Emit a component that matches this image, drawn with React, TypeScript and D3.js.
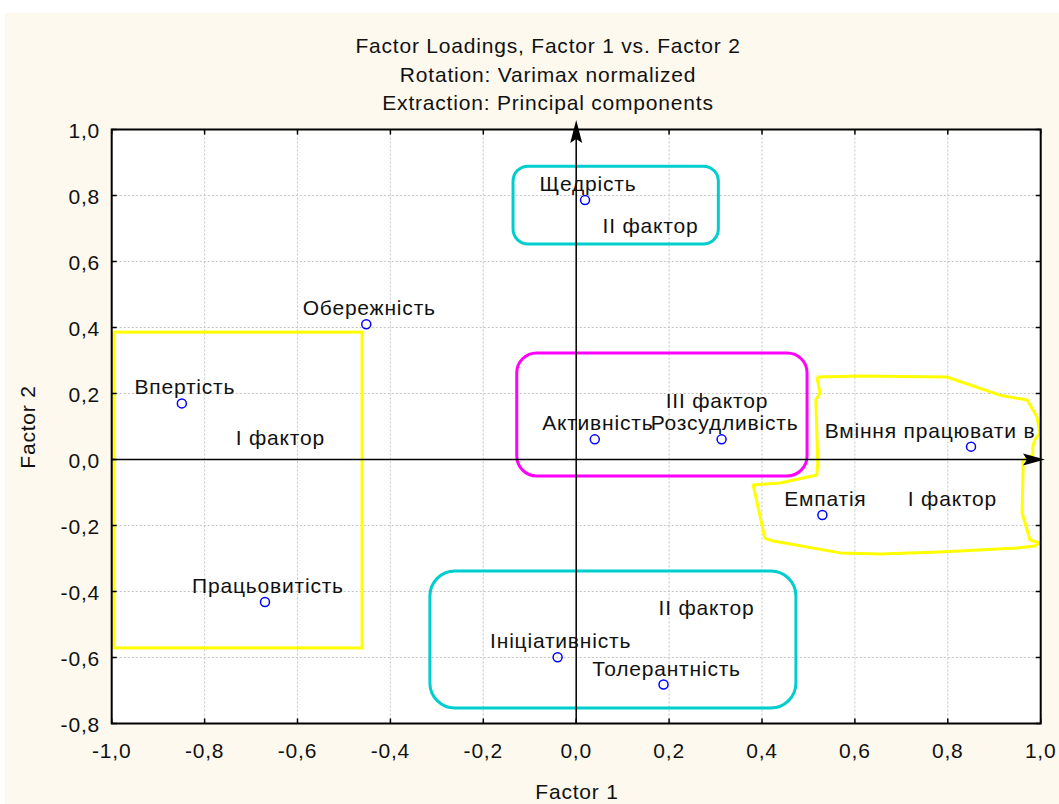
import React from "react";
import * as d3 from "d3";

const variableNames = [
  "Щедрість",
  "Обережність",
  "Впертість",
  "Працьовитість",
  "Активність",
  "Розсудливість",
  "Вміння працювати в команді",
  "Емпатія",
  "Ініціативність",
  "Толерантність",
];
const factor1 = [0.019, -0.452, -0.849, -0.67, 0.04, 0.313, 0.85, 0.53, -0.04, 0.188];
const factor2 = [0.786, 0.41, 0.17, -0.432, 0.061, 0.061, 0.039, -0.168, -0.599, -0.682];

const xTicks = [-1.0, -0.8, -0.6, -0.4, -0.2, 0.0, 0.2, 0.4, 0.6, 0.8, 1.0];
const yTicks = [-0.8, -0.6, -0.4, -0.2, 0.0, 0.2, 0.4, 0.6, 0.8, 1.0];

const titleLines = [
  "Factor Loadings, Factor 1 vs. Factor 2",
  "Rotation: Varimax normalized",
  "Extraction: Principal components",
];

// annotation boxes in data coordinates: [x0, y0(top), x1, y1(bottom)], colour, corner radius
const boxX0 = [-0.136, -0.995, -0.128, -0.315];
const boxY0 = [0.889, 0.386, 0.323, -0.338];
const boxX1 = [0.306, -0.461, 0.497, 0.473];
const boxY1 = [0.653, -0.571, -0.05, -0.753];
const boxColors = ["#00cdcd", "#ffff00", "#ff00ff", "#00cdcd"];
const boxRadius = [15, 0, 20, 25];

// freehand yellow outline (data coordinates)
const freeX = [0.518, 0.611, 0.798, 0.912, 0.971, 0.992, 0.998, 0.987, 0.983, 0.983, 0.962, 0.962, 0.96, 0.977, 0.998, 0.987, 0.949, 0.783, 0.654, 0.568, 0.424, 0.406, 0.381, 0.439, 0.518, 0.52, 0.516, 0.525, 0.518];
const freeY = [0.25, 0.253, 0.25, 0.195, 0.18, 0.129, 0.08, 0.059, 0.038, 0.014, -0.002, -0.032, -0.162, -0.244, -0.253, -0.262, -0.268, -0.28, -0.286, -0.283, -0.247, -0.238, -0.077, -0.071, -0.047, -0.011, 0.18, 0.202, 0.25];

const noteTexts = ["II фактор", "I фактор", "III фактор", "I фактор", "II фактор"];
const noteX = [0.16, -0.637, 0.303, 0.81, 0.2805];
const noteY = [0.686, 0.044, 0.156, -0.141, -0.471];

const W = 1059;
const H = 804;
const FONT = "'Liberation Sans', Arial, sans-serif";
const FS = 21;
const LS = 0.8;

export default function App() {
  const x = d3.scaleLinear().domain([-1, 1]).range([111.7, 1040.7]);
  const y = d3.scaleLinear().domain([-0.8, 1]).range([723.5, 129.5]);
  const [L, R] = x.range();
  const [B, T] = y.range();
  const fmt = (v: number) => d3.format(".1f")(v).replace(".", ",").replace("−", "-");

  const freeLine = d3
    .line<number>()
    .x((i) => x(freeX[i]))
    .y((i) => y(freeY[i]))
    .curve(d3.curveLinear);

  const x0 = x(0);
  const y0 = y(0);
  const topTip = 120;
  const rightTip = 1045;

  return (
    <svg
      width={W}
      height={H}
      style={{ position: "absolute", left: 0, top: 0, fontFamily: FONT }}
    >
      <rect x={0} y={0} width={W} height={H} fill="#ffffff" />
      <rect x={5} y={13} width={W - 5} height={H - 13} fill="#fdf9ee" />
      <defs>
        <clipPath id="plotClip">
          <rect x={L} y={T} width={R - L} height={B - T} />
        </clipPath>
      </defs>
      <rect x={L} y={T} width={R - L} height={B - T} fill="#ffffff" />

      {/* grid */}
      {xTicks.slice(1, -1).map((t) => (
        <line key={"gx" + t} x1={x(t)} x2={x(t)} y1={T} y2={B} stroke="#c4c4c4" strokeDasharray="2,2" />
      ))}
      {yTicks.slice(1, -1).map((t) => (
        <line key={"gy" + t} x1={L} x2={R} y1={y(t)} y2={y(t)} stroke="#c4c4c4" strokeDasharray="2,2" />
      ))}

      {/* title */}
      {titleLines.map((s, i) => (
        <text key={s} x={548} y={[53, 82, 110][i]} textAnchor="middle" fontSize={FS} letterSpacing={LS} fill="#111">
          {s}
        </text>
      ))}

      {/* tick labels */}
      {xTicks.map((t) => (
        <text key={"xl" + t} x={x(t)} y={758} textAnchor="middle" fontSize={FS} letterSpacing={LS} fill="#111">
          {fmt(t)}
        </text>
      ))}
      {yTicks.map((t) => (
        <text key={"yl" + t} x={100} y={y(t) + 8} textAnchor="end" fontSize={FS} letterSpacing={LS} fill="#111">
          {fmt(t)}
        </text>
      ))}

      <text x={577} y={799} textAnchor="middle" fontSize={FS} letterSpacing={LS} fill="#111">
        Factor 1
      </text>
      <text
        transform={`translate(35,${427}) rotate(-90)`}
        textAnchor="middle"
        fontSize={FS}
        letterSpacing={LS}
        fill="#111"
      >
        Factor 2
      </text>

      {/* annotation boxes */}
      {boxX0.map((bx, i) => (
        <rect
          key={"box" + i}
          x={x(bx)}
          y={y(boxY0[i])}
          width={x(boxX1[i]) - x(bx)}
          height={y(boxY1[i]) - y(boxY0[i])}
          rx={boxRadius[i]}
          ry={boxRadius[i]}
          fill="none"
          stroke={boxColors[i]}
          strokeWidth={3}
        />
      ))}
      <path
        d={freeLine(d3.range(freeX.length)) || ""}
        fill="none"
        stroke="#ffff00"
        strokeWidth={3}
        strokeLinejoin="round"
      />

      {/* frame and ticks */}
      <rect x={L} y={T} width={R - L} height={B - T} fill="none" stroke="#000" strokeWidth={2} />
      {xTicks.map((t) => (
        <g key={"xt" + t}>
          <line x1={x(t)} x2={x(t)} y1={B} y2={B - 5} stroke="#000" strokeWidth={1.5} />
          <line x1={x(t)} x2={x(t)} y1={T} y2={T + 5} stroke="#000" strokeWidth={1.5} />
        </g>
      ))}
      {yTicks.map((t) => (
        <g key={"yt" + t}>
          <line x1={L} x2={L + 5} y1={y(t)} y2={y(t)} stroke="#000" strokeWidth={1.5} />
          <line x1={R} x2={R - 5} y1={y(t)} y2={y(t)} stroke="#000" strokeWidth={1.5} />
        </g>
      ))}

      {/* axes through origin with arrows */}
      <line x1={x0} x2={x0} y1={B} y2={topTip + 6} stroke="#000" strokeWidth={1.5} />
      <path
        d={`M${x0},${topTip} L${x0 - 6},${topTip + 23} L${x0},${topTip + 19} L${x0 + 6},${topTip + 23} Z`}
        fill="#000"
      />
      <line x1={L} x2={rightTip - 6} y1={y0} y2={y0} stroke="#000" strokeWidth={1.5} />
      <path
        d={`M${rightTip},${y0} L${rightTip - 22},${y0 - 6} L${rightTip - 18},${y0} L${rightTip - 22},${y0 + 6} Z`}
        fill="#000"
      />

      {/* points */}
      {factor1.map((v, i) => (
        <circle key={"pt" + i} cx={x(v)} cy={y(factor2[i])} r={4.5} fill="none" stroke="#0000ff" strokeWidth={1.5} />
      ))}
      <g clipPath="url(#plotClip)">
        {factor1.map((v, i) => (
          <text
            key={"lb" + i}
            x={x(v) + 3}
            y={y(factor2[i]) - 9}
            textAnchor="middle"
            fontSize={FS}
            letterSpacing={LS}
            fill="#111"
          >
            {variableNames[i]}
          </text>
        ))}
      </g>

      {/* annotation texts */}
      {noteTexts.map((s, i) => (
        <text key={"nt" + i} x={x(noteX[i])} y={y(noteY[i])} textAnchor="middle" fontSize={FS} letterSpacing={LS} fill="#111">
          {s}
        </text>
      ))}
    </svg>
  );
}
